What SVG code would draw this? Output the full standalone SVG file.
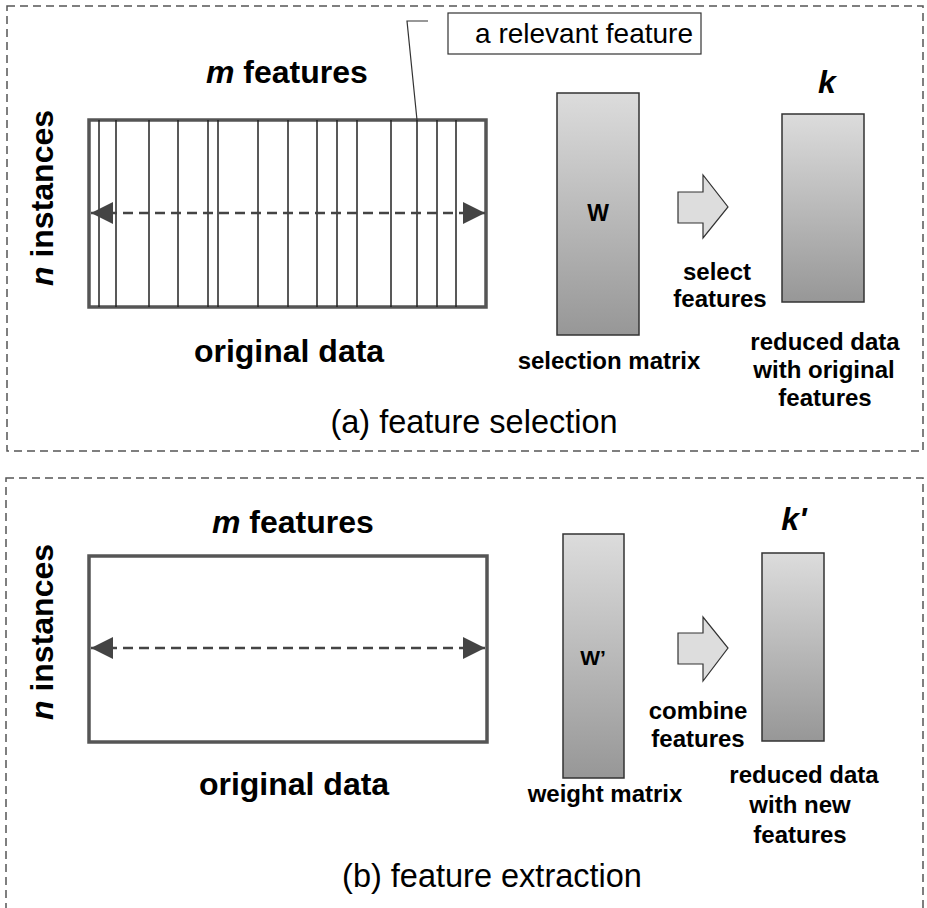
<svg xmlns="http://www.w3.org/2000/svg" width="927" height="908" viewBox="0 0 927 908">
<style>
.frame{fill:none;stroke:#555;stroke-width:1.5;stroke-dasharray:8 5}
.data{fill:#fff;stroke:#555;stroke-width:3.5}
.col{stroke:#222;stroke-width:1.5}
.dash{stroke:#444;stroke-width:2.5;stroke-dasharray:10 6;fill:none}
.mat{fill:url(#g);stroke:#333;stroke-width:1.5}
.blk{fill:#ddd;stroke:#333;stroke-width:1.2}
text{font-family:"Liberation Sans",Arial,sans-serif;fill:#000}
.b{font-weight:bold}
.big{font-size:32px}
.mid{font-size:24px}
.cap{font-size:32.5px}
.c{text-anchor:middle}
</style>
<defs>
<linearGradient id="g" x1="0" y1="0" x2="0" y2="1">
<stop offset="0" stop-color="#dcdcdc"/>
<stop offset="1" stop-color="#979797"/>
</linearGradient>
<marker id="ah" markerUnits="userSpaceOnUse" markerWidth="22" markerHeight="22" viewBox="0 0 20 20" refX="20" refY="10" orient="auto-start-reverse">
<path d="M0,0 L20,10 L0,20 Z" fill="#444"/>
</marker>
</defs>

<g id="panel-a">
<rect class="frame" x="7" y="6" width="916" height="445"/>
<text class="b big c" transform="translate(53,198) rotate(-90)"><tspan font-style="italic">n</tspan> instances</text>
<text class="b big" x="206" y="83"><tspan font-style="italic">m</tspan> features</text>
</g>

<g id="original-data-a">
<rect class="data" x="89" y="120" width="397" height="187"/>
<g class="col">
<line x1="99" y1="120" x2="99" y2="307"/>
<line x1="116" y1="120" x2="116" y2="307"/>
<line x1="149" y1="120" x2="149" y2="307"/>
<line x1="178" y1="120" x2="178" y2="307"/>
<line x1="208" y1="120" x2="208" y2="307"/>
<line x1="218" y1="120" x2="218" y2="307"/>
<line x1="258" y1="120" x2="258" y2="307"/>
<line x1="288" y1="120" x2="288" y2="307"/>
<line x1="317" y1="120" x2="317" y2="307"/>
<line x1="337" y1="120" x2="337" y2="307"/>
<line x1="357" y1="120" x2="357" y2="307"/>
<line x1="391" y1="120" x2="391" y2="307"/>
<line x1="417" y1="120" x2="417" y2="307"/>
<line x1="437" y1="120" x2="437" y2="307"/>
<line x1="456" y1="120" x2="456" y2="307"/>
</g>
<text class="b big c" x="289" y="362">original data</text>
</g>

<g id="relevant-feature-label">
<rect x="448" y="13" width="253" height="41" fill="#fff" stroke="#333" stroke-width="1.2"/>
<text x="693" y="43" font-size="28" text-anchor="end">a relevant feature</text>
</g>

<g id="selection-matrix">
<rect class="mat" x="557" y="93" width="82" height="242"/>
<text class="b c" x="598" y="221" font-size="23">W</text>
<text class="b mid c" x="609" y="369">selection matrix</text>
</g>

<g id="select-arrow">
<polygon class="blk" points="678,192 703,192 703,175 728,207 703,238 703,223 678,223"/>
<text class="b mid c" x="717" y="280">select</text>
<text class="b mid c" x="720" y="307">features</text>
</g>

<g id="reduced-a">
<text class="b c" x="827" y="93" font-size="32" font-style="italic">k</text>
<rect class="mat" x="782" y="114" width="82" height="188"/>
<text class="b mid c" x="825" y="350">reduced data</text>
<text class="b mid c" x="824" y="378">with original</text>
<text class="b mid c" x="825" y="406">features</text>
</g>

<text id="caption-a" class="cap c" x="474" y="433">(a) feature selection</text>

<g id="panel-b">
<rect class="frame" x="6" y="478" width="917" height="450"/>
<text class="b big c" transform="translate(53,632) rotate(-90)"><tspan font-style="italic">n</tspan> instances</text>
<text class="b big" x="212" y="533"><tspan font-style="italic">m</tspan> features</text>
</g>

<g id="original-data-b">
<rect class="data" x="89" y="556" width="398" height="186"/>
<text class="b big c" x="294" y="795">original data</text>
</g>

<g id="weight-matrix">
<rect class="mat" x="563" y="534" width="61" height="244"/>
<text class="b c" x="593" y="665" font-size="21">W’</text>
<text class="b mid c" x="605" y="802">weight matrix</text>
</g>

<g id="combine-arrow">
<polygon class="blk" points="678,633 703,633 703,617 728,648 703,681 703,664 678,664"/>
<text class="b mid c" x="698" y="719">combine</text>
<text class="b mid c" x="698" y="747">features</text>
</g>

<g id="reduced-b">
<text class="b c" x="794" y="530" font-size="32" font-style="italic">k'</text>
<rect class="mat" x="762" y="553" width="62" height="188"/>
<text class="b mid c" x="804" y="783">reduced data</text>
<text class="b mid c" x="800" y="813">with new</text>
<text class="b mid c" x="800" y="843">features</text>
</g>

<text id="caption-b" class="cap c" x="492" y="887">(b) feature extraction</text>

<g id="connectors">
<polyline points="428,21 407,21 417,120" fill="none" stroke="#333" stroke-width="1.2"/>
<line class="dash" x1="91" y1="213" x2="485" y2="213" marker-start="url(#ah)" marker-end="url(#ah)"/>
<line class="dash" x1="91" y1="648" x2="485" y2="648" marker-start="url(#ah)" marker-end="url(#ah)"/>
</g>
</svg>
